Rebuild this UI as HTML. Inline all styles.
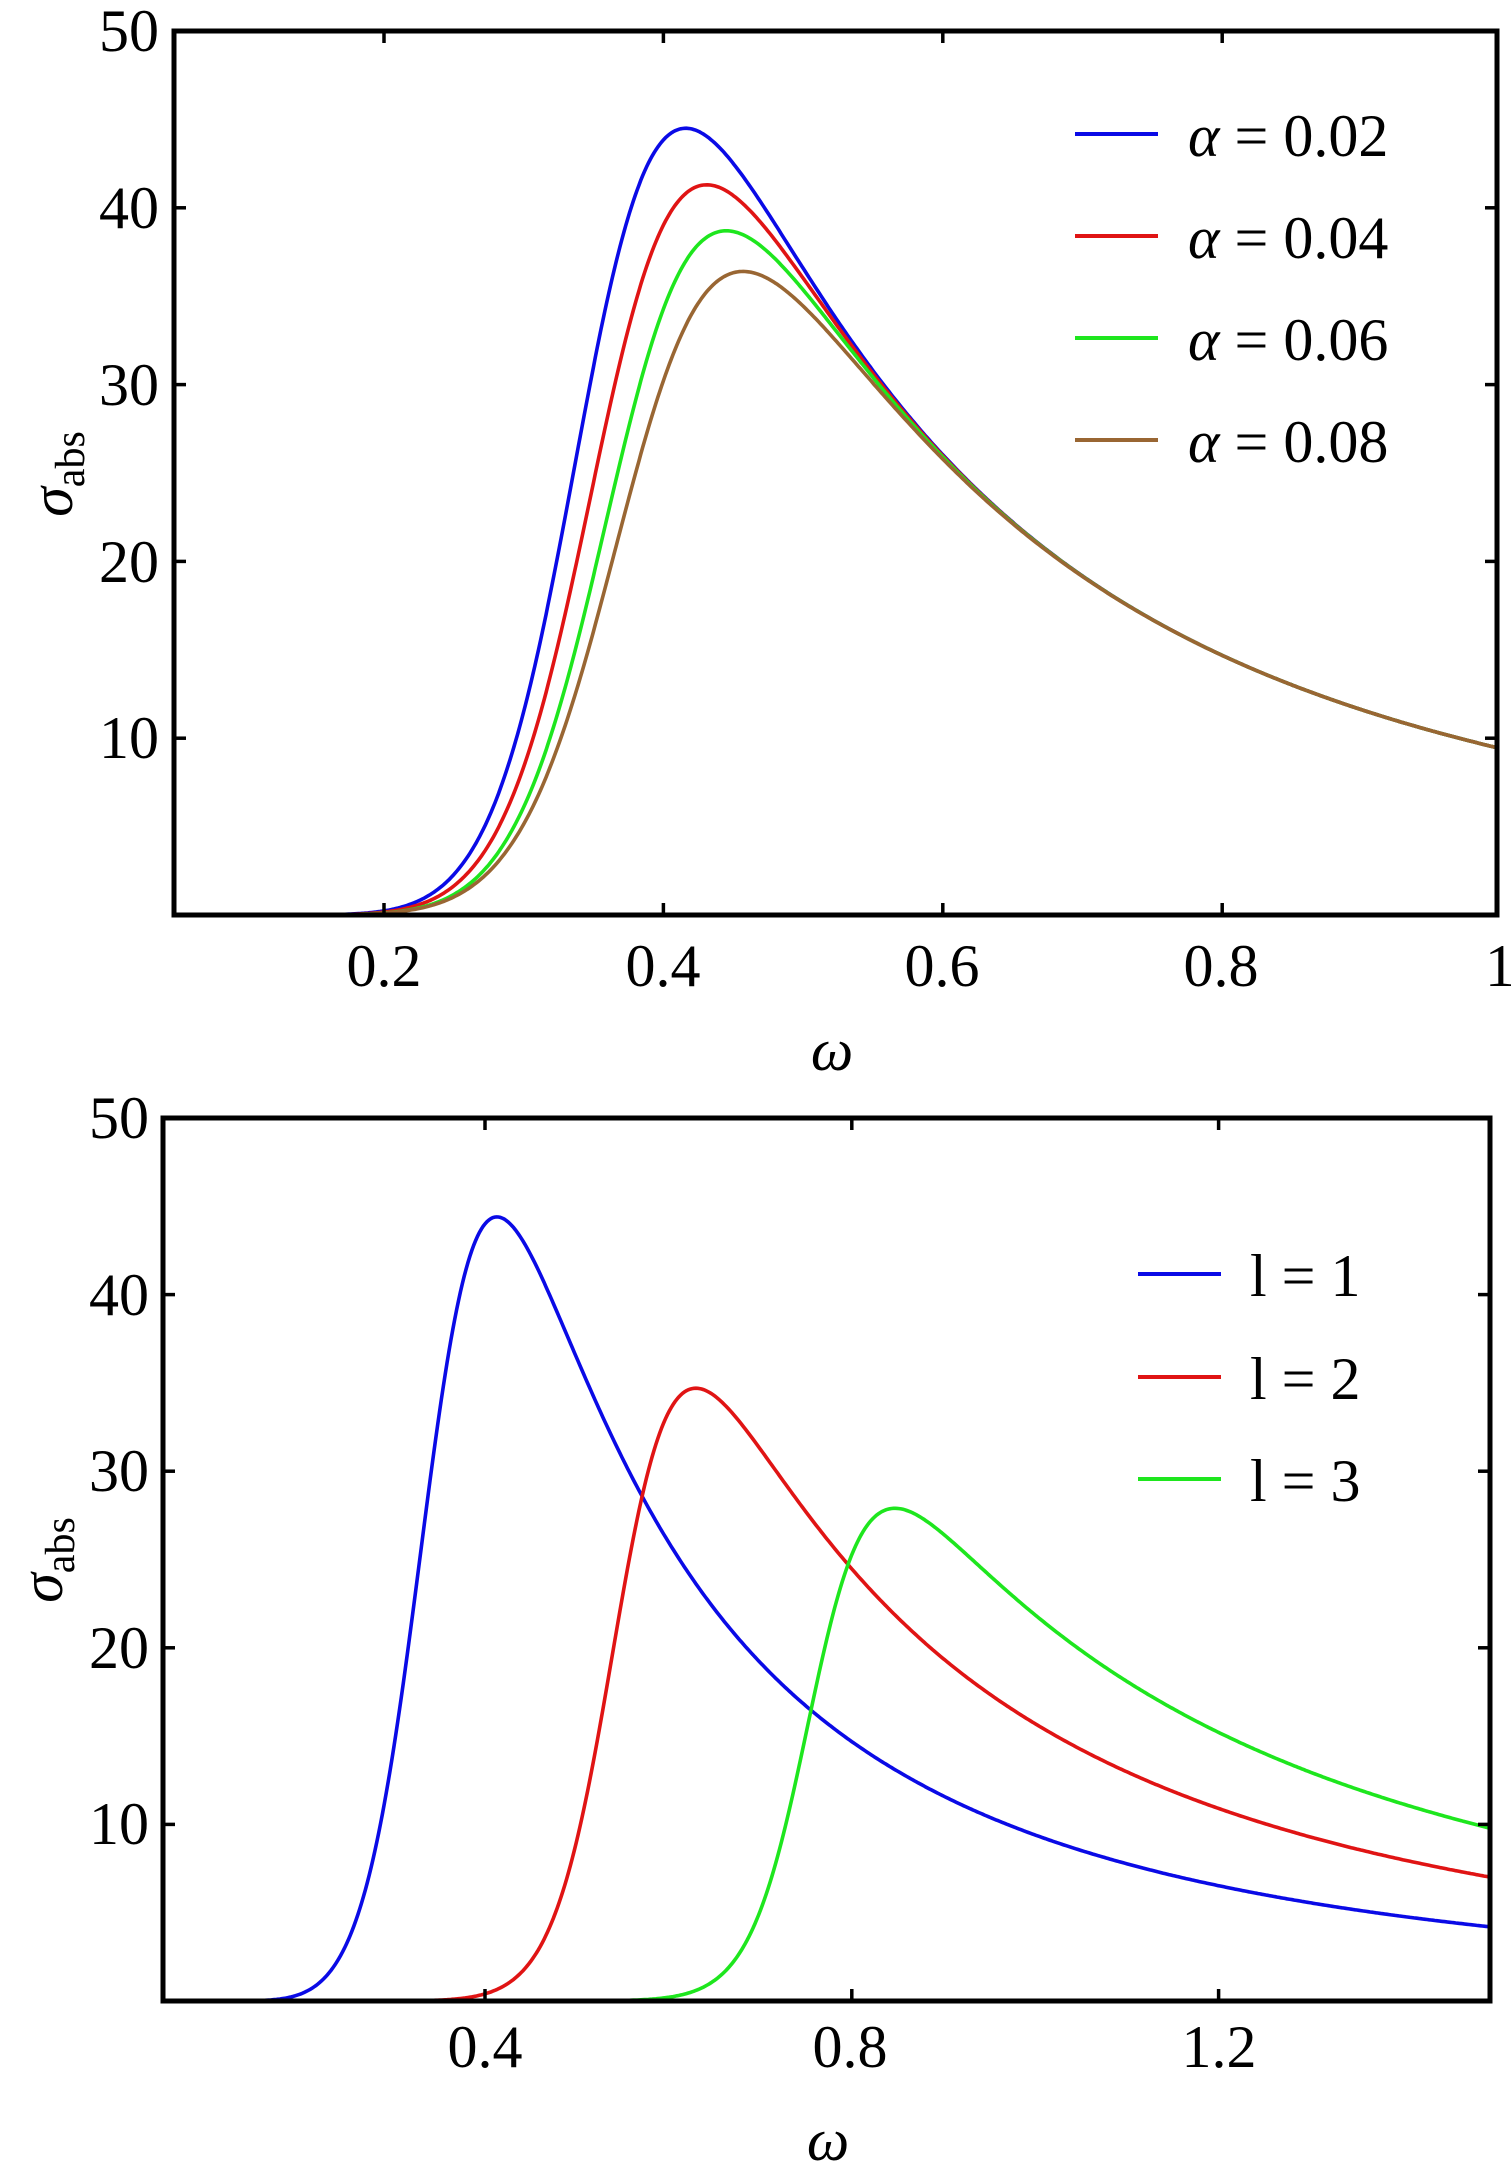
<!DOCTYPE html>
<html><head><meta charset="utf-8"><style>
html,body{margin:0;padding:0;background:#fff;}
svg{display:block;}
text{font-family:"Liberation Serif",serif;fill:#000;}
</style></head><body>
<svg id="s" width="1511" height="2170" viewBox="0 0 1511 2170" xmlns="http://www.w3.org/2000/svg">
<g id="g"></g>
<g font-size="60">
<text x="159" y="51" text-anchor="end">50</text>
<text x="159" y="228" text-anchor="end">40</text>
<text x="159" y="405" text-anchor="end">30</text>
<text x="159" y="582" text-anchor="end">20</text>
<text x="159" y="758" text-anchor="end">10</text>
<text x="384" y="986" text-anchor="middle">0.2</text>
<text x="663" y="986" text-anchor="middle">0.4</text>
<text x="942" y="986" text-anchor="middle">0.6</text>
<text x="1221" y="986" text-anchor="middle">0.8</text>
<text x="1500" y="986" text-anchor="middle">1</text>
<text x="832" y="1070" text-anchor="middle" font-style="italic">ω</text>
<g transform="translate(72,474) rotate(-90)"><text x="0" y="0" text-anchor="middle"><tspan font-style="italic">σ</tspan><tspan font-size="42" dy="12">abs</tspan></text></g>
<text x="1188" y="156"><tspan font-style="italic">α</tspan> = 0.02</text>
<text x="1188" y="258"><tspan font-style="italic">α</tspan> = 0.04</text>
<text x="1188" y="360"><tspan font-style="italic">α</tspan> = 0.06</text>
<text x="1188" y="462"><tspan font-style="italic">α</tspan> = 0.08</text>
</g>
<g font-size="60">
<text x="149" y="1138" text-anchor="end">50</text>
<text x="149" y="1315" text-anchor="end">40</text>
<text x="149" y="1491" text-anchor="end">30</text>
<text x="149" y="1668" text-anchor="end">20</text>
<text x="149" y="1844" text-anchor="end">10</text>
<text x="485" y="2067" text-anchor="middle">0.4</text>
<text x="850" y="2067" text-anchor="middle">0.8</text>
<text x="1219" y="2067" text-anchor="middle">1.2</text>
<text x="828" y="2160" text-anchor="middle" font-style="italic">ω</text>
<g transform="translate(62,1560) rotate(-90)"><text x="0" y="0" text-anchor="middle"><tspan font-style="italic">σ</tspan><tspan font-size="42" dy="12">abs</tspan></text></g>
<text x="1250" y="1296">l = 1</text>
<text x="1250" y="1399">l = 2</text>
<text x="1250" y="1501">l = 3</text>
</g>
</svg>
<script>
(function(){
var g=document.getElementById('g'),NS='http://www.w3.org/2000/svg';
function el(n,a,p){var e=document.createElementNS(NS,n);for(var k in a)e.setAttribute(k,a[k]);(p||g).appendChild(e);return e;}
function model(C,wp,V){var T=V*wp*wp/C;var Lg=Math.log(T/(1-T));var r=Lg*(1-T)/2;var u=(1-r)/(1+r);
 var a=4/(wp*(1-T)*(1+u));var w02=u*wp*wp;
 return function(w){var L=a*(w-w02/w)/2;return C/(w*w)/(1+Math.exp(-L));};}
function plot(P){
 var X=function(w){return P.x0+(w-P.w0)*P.sx;},Y=function(v){return P.y0-v*P.sy;};
 var cp=el('clipPath',{id:P.id});el('rect',{x:P.L,y:P.T,width:P.R-P.L,height:P.B-P.T},cp);
 P.series.forEach(function(s){var f=model(s[0],s[1],s[2]);var d='';
  for(var i=0;i<=700;i++){var w=P.wmin+(P.wmax-P.wmin)*i/700;var v=f(w);d+=(i?'L':'M')+X(w).toFixed(1)+' '+Y(v).toFixed(1);}
  el('path',{d:d,fill:'none',stroke:s[3],'stroke-width':3.6,'clip-path':'url(#'+P.id+')'});});
 P.leg.forEach(function(l){el('line',{x1:l[0],x2:l[1],y1:l[2],y2:l[2],stroke:l[3],'stroke-width':4});});
 P.xt.forEach(function(w){var x=X(w);el('line',{x1:x,x2:x,y1:P.B,y2:P.B-12,stroke:'#000','stroke-width':3.5});el('line',{x1:x,x2:x,y1:P.T,y2:P.T+12,stroke:'#000','stroke-width':3.5});});
 [10,20,30,40].forEach(function(v){var y=Y(v);el('line',{x1:P.L,x2:P.L+12,y1:y,y2:y,stroke:'#000','stroke-width':3.5});el('line',{x1:P.R,x2:P.R-12,y1:y,y2:y,stroke:'#000','stroke-width':3.5});});
 el('rect',{x:P.L,y:P.T,width:P.R-P.L,height:P.B-P.T,fill:'none',stroke:'#000','stroke-width':5});
}
plot({id:'c1',x0:384,w0:0.2,sx:1397,y0:915,sy:17.68,L:174,R:1497,T:31,B:915,wmin:0.05,wmax:1.0,
 xt:[0.2,0.4,0.6,0.8],
 series:[[9.4,0.416,44.5,'#0a0ae6'],[9.4,0.431,41.3,'#e01414'],[9.4,0.445,38.7,'#1ee61e'],[9.4,0.457,36.4,'#996633']],
 leg:[[1075,1158,134,'#0a0ae6'],[1075,1158,236,'#e01414'],[1075,1158,338,'#1ee61e'],[1075,1158,440,'#996633']]});
plot({id:'c2',x0:485,w0:0.4,sx:917,y0:2001,sy:17.66,L:163,R:1490,T:1118,B:2001,wmin:0.05,wmax:1.5,
 xt:[0.4,0.8,1.2],
 series:[[9.4,0.413,44.4,'#0a0ae6'],[15.7,0.630,34.7,'#e01414'],[21.9,0.847,27.9,'#1ee61e']],
 leg:[[1138,1221,1274,'#0a0ae6'],[1138,1221,1377,'#e01414'],[1138,1221,1479,'#1ee61e']]});
})();
</script>
</body></html>
